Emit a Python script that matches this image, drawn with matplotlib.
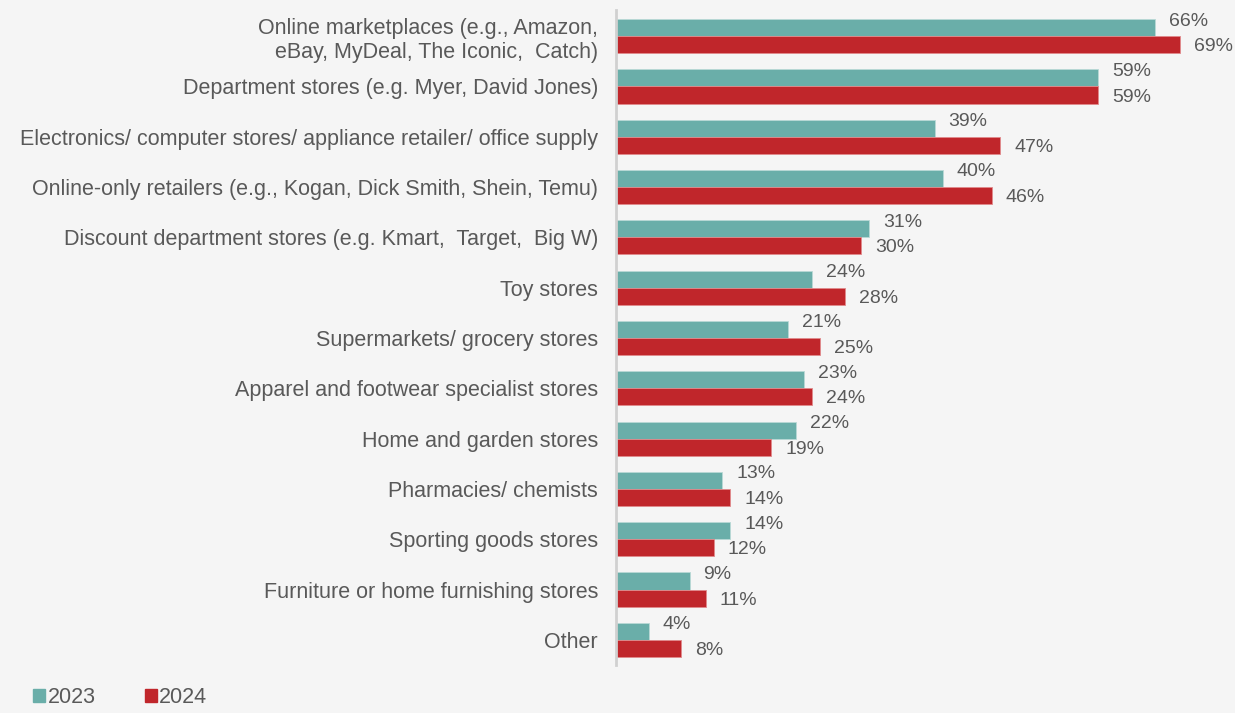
import matplotlib.pyplot as plt
import numpy as np
from matplotlib.patches import Patch

categories = [
    "Online marketplaces (e.g., Amazon,\neBay, MyDeal, The Iconic,  Catch)",
    "Department stores (e.g. Myer, David Jones)",
    "Electronics/ computer stores/ appliance retailer/ office supply",
    "Online-only retailers (e.g., Kogan, Dick Smith, Shein, Temu)",
    "Discount department stores (e.g. Kmart,  Target,  Big W)",
    "Toy stores",
    "Supermarkets/ grocery stores",
    "Apparel and footwear specialist stores",
    "Home and garden stores",
    "Pharmacies/ chemists",
    "Sporting goods stores",
    "Furniture or home furnishing stores",
    "Other",
]
vals_2023 = [66, 59, 39, 40, 31, 24, 21, 23, 22, 13, 14, 9, 4]
vals_2024 = [69, 59, 47, 46, 30, 28, 25, 24, 19, 14, 12, 11, 8]

teal = "#6aaea9"
red = "#c0262b"
txt = "#595959"
bg = "#f5f5f5"

plt.rcParams['font.family'] = ['Liberation Sans', 'DejaVu Sans']

fig = plt.figure(figsize=(12.35, 7.13), dpi=100, facecolor=bg)
ax = fig.add_axes([616 / 1235, 48 / 713, 613 / 1235, 655 / 713])
ax.set_facecolor(bg)

y = np.arange(len(categories))
h = 0.34
ax.barh(y - h / 2, vals_2023, height=h, color=teal, edgecolor="#b9d9d6", linewidth=0.6)
ax.barh(y + h / 2, vals_2024, height=h, color=red, edgecolor="#e08a8c", linewidth=0.6)

for i in range(len(categories)):
    ax.text(vals_2023[i] + 1.7, y[i] - h / 2 - 0.13, f"{vals_2023[i]}%", va="center", ha="left",
            fontsize=14, color=txt)
    ax.text(vals_2024[i] + 1.7, y[i] + h / 2 + 0.04, f"{vals_2024[i]}%", va="center", ha="left",
            fontsize=14, color=txt)

ax.set_xlim(0, 75)
ax.set_ylim(12.5, -0.52)
ax.set_yticks(y)
ax.set_yticklabels(categories, fontsize=15.5, color=txt)
ax.tick_params(axis="y", length=0, pad=13)
ax.set_xticks([])
for s in ["top", "right", "bottom"]:
    ax.spines[s].set_visible(False)
ax.spines["left"].set_color("#d0d0d0")
ax.spines["left"].set_linewidth(2)

handles = [Patch(color=teal, label="2023"), Patch(color=red, label="2024")]
fig.legend(handles=handles, loc="lower left", bbox_to_anchor=(0.011, -0.02), ncol=2, frameon=False,
           fontsize=15.5, labelcolor=txt, handlelength=0.55, handleheight=0.55, handletextpad=0.12,
           columnspacing=2.3)

fig.savefig("out.png", dpi=100, facecolor=bg)
